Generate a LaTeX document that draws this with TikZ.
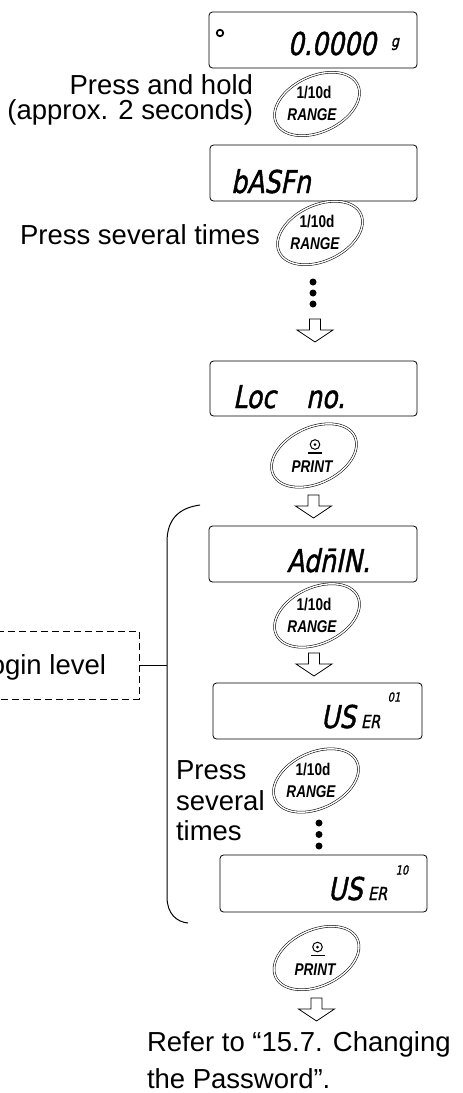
\documentclass[tikz,border=0pt]{standalone}
\usepackage{fontspec}
\setmainfont{Liberation Sans}
\newfontfamily\lcd[FakeStretch=0.8,FakeSlant=0.2,FakeBold=1.3]{DejaVu Sans}
\newfontfamily\btnf[FakeStretch=0.8]{Liberation Sans}
\usetikzlibrary{shapes.geometric}
\begin{document}
\begin{tikzpicture}[x=1pt,y=-1pt,
  every node/.style={inner sep=0pt,outer sep=0pt},
  disp/.style={draw,line width=0.8pt,rounded corners=3.5pt},
  btn/.style={draw,ellipse,double,line width=0.55pt,double distance=1.4pt,
              minimum width=90pt,minimum height=56pt,rotate=25},
  btntop/.style={font=\btnf\bfseries\fontsize{17}{18}\selectfont},
  btnbot/.style={font=\btnf\bfseries\itshape\fontsize{17}{18}\selectfont},
  lcdbig/.style={font=\lcd\fontsize{31.5}{32}\selectfont},
  lcdsmall/.style={font=\lcd\fontsize{18}{18}\selectfont},
  lcdtiny/.style={font=\lcd\fontsize{12.5}{13}\selectfont},
  txt/.style={font=\fontsize{27.5}{30}\selectfont},
  dot/.style={circle,fill,minimum size=7pt},
  harrow/.pic={\draw[line width=0.8pt,fill=white]
     (-5.5,0) -- (-5.5,11) -- (-18,11) -- (0,23) -- (18,11) -- (5.5,11) -- (5.5,0) -- cycle;},
  printsym/.pic={\draw[line width=1pt] (0,0) circle (4.8);
     \fill (0,0) circle (1.5);
     \draw[line width=1.1pt] (-7,8.5) -- (7,8.5);}
]
\useasboundingbox (0,0) rectangle (463,1093);
\clip (0,0) rectangle (463,1093);

% ---------- display 1 ----------
\node[disp,minimum width=208pt,minimum height=56pt] (d1) at (313,40) {};
\node[circle,draw,line width=1.7pt,minimum size=6.5pt] (stab) at (220,33) {};
\node[lcdbig,anchor=base east] (v1) at (376,55) {0.0000};
\node[font=\lcd\fontsize{16}{16}\selectfont] (u1) at (395,44) {g};

\node[txt,anchor=base east] (t1a) at (253,94) {Press and hold};
\node[txt,anchor=base east] (t1b) at (253,119) {(approx. 2 seconds)};
\node[btn] (b1) at (317,104) {};
\node[btntop] (b1t) at (314,93) {1/10d};
\node[btnbot] (b1b) at (312,115) {RANGE};

% ---------- display 2 ----------
\node[disp,minimum width=207pt,minimum height=56pt] (d2) at (313.5,173) {};
\node[lcdbig,anchor=base west] (v2) at (231,193) {bASFn};

\node[txt,anchor=base east] (t2) at (260,244) {Press several times};
\node[btn] (b2) at (320,233) {};
\node[btntop] (b2t) at (317,222) {1/10d};
\node[btnbot] (b2b) at (315,244) {RANGE};

\node[dot] (p1) at (313,282) {};
\node[dot] (p2) at (313,293) {};
\node[dot] (p3) at (313,304) {};
\pic (a1) at (315,319) {harrow};

% ---------- display 3 ----------
\node[disp,minimum width=207pt,minimum height=55pt] (d3) at (313.5,388.5) {};
\node[lcdbig,anchor=base west] (v3a) at (233,408) {Loc};
\node[lcdbig,anchor=base west] (v3b) at (306,408) {no.};

\node[btn] (b3) at (314,455.5) {};
\pic (s3) at (315,444.5) {printsym};
\node[btnbot] (b3b) at (312,467) {PRINT};
\pic (a2) at (313.5,495) {harrow};

% ---------- brace and login level ----------
\draw[line width=1pt] (200,505) .. controls (178,508) and (167,520) .. (167,542)
   -- (167,897) .. controls (167,914) and (177,922) .. (188,923);
\coordinate (bk) at (167,665);
\node[draw,line width=0.8pt,dash pattern=on 7pt off 4pt,
      minimum width=160pt,minimum height=68pt] (login) at (59,665) {};
\node[txt,anchor=base east] (logt) at (106,674) {Login level};
\draw[line width=0.9pt] (login.east) -- (bk);

% ---------- display 4 ----------
\node[disp,minimum width=208pt,minimum height=56pt] (d4) at (313,554) {};
\node[lcdbig,anchor=base west] (v4) at (287,572) {Ad\={n}IN.};

\node[btn] (b4) at (317,615.5) {};
\node[btntop] (b4t) at (314,605) {1/10d};
\node[btnbot] (b4b) at (312,627) {RANGE};
\pic (a3) at (314,653) {harrow};

% ---------- display 5 ----------
\node[disp,minimum width=209pt,minimum height=56pt] (d5) at (317.5,711) {};
\node[lcdbig,anchor=base west] (v5) at (321,728) {US};
\node[lcdsmall,anchor=base west] (e5) at (361,728) {ER};
\node[lcdtiny] (n5) at (394,697) {01};

\node[txt,anchor=base west] (t3a) at (176,779) {Press};
\node[txt,anchor=base west] (t3b) at (176,810) {several};
\node[txt,anchor=base west] (t3c) at (176,840) {times};
\node[btn] (b5) at (316,780.5) {};
\node[btntop] (b5t) at (313,770) {1/10d};
\node[btnbot] (b5b) at (311,792) {RANGE};

\node[dot] (q1) at (319,823) {};
\node[dot] (q2) at (319,834.5) {};
\node[dot] (q3) at (319,846) {};

% ---------- display 6 ----------
\node[disp,minimum width=207pt,minimum height=57pt] (d6) at (323.5,883.5) {};
\node[lcdbig,anchor=base west] (v6) at (328,900) {US};
\node[lcdsmall,anchor=base west] (e6) at (368,900) {ER};
\node[lcdtiny] (n6) at (402,870) {10};

\node[btn] (b6) at (316.5,958) {};
\pic (s6) at (317.5,947) {printsym};
\node[btnbot] (b6b) at (315,970) {PRINT};
\pic (a4) at (316.5,998) {harrow};

\node[txt,anchor=base west] (t4a) at (147,1051) {Refer to “15.7. Changing};
\node[txt,anchor=base west] (t4b) at (147,1088) {the Password”.};
\end{tikzpicture}
\end{document}
